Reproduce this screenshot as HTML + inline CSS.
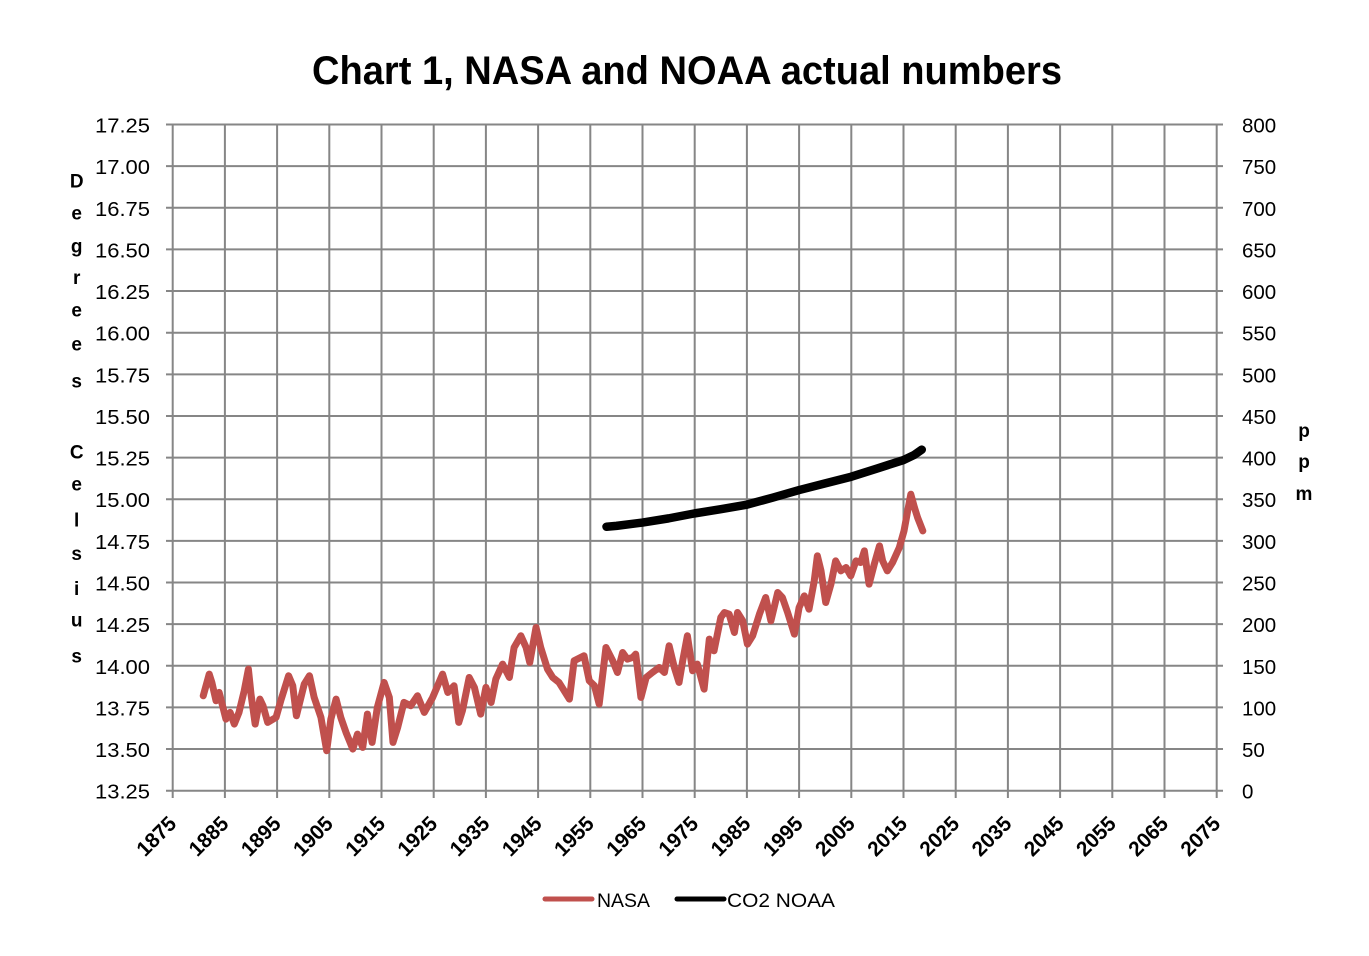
<!DOCTYPE html>
<html><head><meta charset="utf-8"><style>
html,body{margin:0;padding:0;background:#fff;}
svg{display:block;}
text{font-family:"Liberation Sans",sans-serif;fill:#000;}
</style></head><body>
<svg width="1369" height="956" viewBox="0 0 1369 956" xmlns="http://www.w3.org/2000/svg">
<rect width="1369" height="956" fill="#fff"/>
<text x="312" y="84" font-size="40" font-weight="bold" textLength="750" lengthAdjust="spacingAndGlyphs">Chart 1, NASA and NOAA actual numbers</text>
<g stroke="#868686" stroke-width="2" fill="none">
<path d="M166 790.7H1223M166 749.06H1223M166 707.43H1223M166 665.79H1223M166 624.15H1223M166 582.51H1223M166 540.88H1223M166 499.24H1223M166 457.6H1223M166 415.96H1223M166 374.33H1223M166 332.69H1223M166 291.05H1223M166 249.41H1223M166 207.78H1223M166 166.14H1223M166 124.5H1223"/>
<path d="M172.7 124.5V798M224.9 124.5V798M277.1 124.5V798M329.3 124.5V798M381.5 124.5V798M433.7 124.5V798M485.9 124.5V798M538.1 124.5V798M590.3 124.5V798M642.5 124.5V798M694.7 124.5V798M746.9 124.5V798M799.1 124.5V798M851.3 124.5V798M903.5 124.5V798M955.7 124.5V798M1007.9 124.5V798M1060.1 124.5V798M1112.3 124.5V798M1164.5 124.5V798M1216.7 124.5V798"/>
</g>
<g font-size="20" text-anchor="end">
<text x="150" y="798.7" textLength="55" lengthAdjust="spacingAndGlyphs">13.25</text>
<text x="150" y="757.06" textLength="55" lengthAdjust="spacingAndGlyphs">13.50</text>
<text x="150" y="715.43" textLength="55" lengthAdjust="spacingAndGlyphs">13.75</text>
<text x="150" y="673.79" textLength="55" lengthAdjust="spacingAndGlyphs">14.00</text>
<text x="150" y="632.15" textLength="55" lengthAdjust="spacingAndGlyphs">14.25</text>
<text x="150" y="590.51" textLength="55" lengthAdjust="spacingAndGlyphs">14.50</text>
<text x="150" y="548.88" textLength="55" lengthAdjust="spacingAndGlyphs">14.75</text>
<text x="150" y="507.24" textLength="55" lengthAdjust="spacingAndGlyphs">15.00</text>
<text x="150" y="465.6" textLength="55" lengthAdjust="spacingAndGlyphs">15.25</text>
<text x="150" y="423.96" textLength="55" lengthAdjust="spacingAndGlyphs">15.50</text>
<text x="150" y="382.33" textLength="55" lengthAdjust="spacingAndGlyphs">15.75</text>
<text x="150" y="340.69" textLength="55" lengthAdjust="spacingAndGlyphs">16.00</text>
<text x="150" y="299.05" textLength="55" lengthAdjust="spacingAndGlyphs">16.25</text>
<text x="150" y="257.41" textLength="55" lengthAdjust="spacingAndGlyphs">16.50</text>
<text x="150" y="215.78" textLength="55" lengthAdjust="spacingAndGlyphs">16.75</text>
<text x="150" y="174.14" textLength="55" lengthAdjust="spacingAndGlyphs">17.00</text>
<text x="150" y="132.5" textLength="55" lengthAdjust="spacingAndGlyphs">17.25</text>
</g>
<g font-size="20.5" text-anchor="start">
<text x="1242" y="798.7">0</text>
<text x="1242" y="757.06">50</text>
<text x="1242" y="715.43">100</text>
<text x="1242" y="673.79">150</text>
<text x="1242" y="632.15">200</text>
<text x="1242" y="590.51">250</text>
<text x="1242" y="548.88">300</text>
<text x="1242" y="507.24">350</text>
<text x="1242" y="465.6">400</text>
<text x="1242" y="423.96">450</text>
<text x="1242" y="382.33">500</text>
<text x="1242" y="340.69">550</text>
<text x="1242" y="299.05">600</text>
<text x="1242" y="257.41">650</text>
<text x="1242" y="215.78">700</text>
<text x="1242" y="174.14">750</text>
<text x="1242" y="132.5">800</text>
</g>
<g font-size="21" font-weight="bold" text-anchor="end">
<text x="177.7" y="825" transform="rotate(-45 177.7 825)" textLength="46" lengthAdjust="spacingAndGlyphs">1875</text>
<text x="229.9" y="825" transform="rotate(-45 229.9 825)" textLength="46" lengthAdjust="spacingAndGlyphs">1885</text>
<text x="282.1" y="825" transform="rotate(-45 282.1 825)" textLength="46" lengthAdjust="spacingAndGlyphs">1895</text>
<text x="334.3" y="825" transform="rotate(-45 334.3 825)" textLength="46" lengthAdjust="spacingAndGlyphs">1905</text>
<text x="386.5" y="825" transform="rotate(-45 386.5 825)" textLength="46" lengthAdjust="spacingAndGlyphs">1915</text>
<text x="438.7" y="825" transform="rotate(-45 438.7 825)" textLength="46" lengthAdjust="spacingAndGlyphs">1925</text>
<text x="490.9" y="825" transform="rotate(-45 490.9 825)" textLength="46" lengthAdjust="spacingAndGlyphs">1935</text>
<text x="543.1" y="825" transform="rotate(-45 543.1 825)" textLength="46" lengthAdjust="spacingAndGlyphs">1945</text>
<text x="595.3" y="825" transform="rotate(-45 595.3 825)" textLength="46" lengthAdjust="spacingAndGlyphs">1955</text>
<text x="647.5" y="825" transform="rotate(-45 647.5 825)" textLength="46" lengthAdjust="spacingAndGlyphs">1965</text>
<text x="699.7" y="825" transform="rotate(-45 699.7 825)" textLength="46" lengthAdjust="spacingAndGlyphs">1975</text>
<text x="751.9" y="825" transform="rotate(-45 751.9 825)" textLength="46" lengthAdjust="spacingAndGlyphs">1985</text>
<text x="804.1" y="825" transform="rotate(-45 804.1 825)" textLength="46" lengthAdjust="spacingAndGlyphs">1995</text>
<text x="856.3" y="825" transform="rotate(-45 856.3 825)" textLength="46" lengthAdjust="spacingAndGlyphs">2005</text>
<text x="908.5" y="825" transform="rotate(-45 908.5 825)" textLength="46" lengthAdjust="spacingAndGlyphs">2015</text>
<text x="960.7" y="825" transform="rotate(-45 960.7 825)" textLength="46" lengthAdjust="spacingAndGlyphs">2025</text>
<text x="1012.9" y="825" transform="rotate(-45 1012.9 825)" textLength="46" lengthAdjust="spacingAndGlyphs">2035</text>
<text x="1065.1" y="825" transform="rotate(-45 1065.1 825)" textLength="46" lengthAdjust="spacingAndGlyphs">2045</text>
<text x="1117.3" y="825" transform="rotate(-45 1117.3 825)" textLength="46" lengthAdjust="spacingAndGlyphs">2055</text>
<text x="1169.5" y="825" transform="rotate(-45 1169.5 825)" textLength="46" lengthAdjust="spacingAndGlyphs">2065</text>
<text x="1221.7" y="825" transform="rotate(-45 1221.7 825)" textLength="46" lengthAdjust="spacingAndGlyphs">2075</text>
</g>
<g font-size="19" font-weight="bold" text-anchor="middle">
<text x="76.7" y="187.3">D</text>
<text x="76.7" y="219.3">e</text>
<text x="76.7" y="252.3">g</text>
<text x="76.7" y="284">r</text>
<text x="76.7" y="316.7">e</text>
<text x="76.7" y="350.7">e</text>
<text x="76.7" y="387.3">s</text>
<text x="76.7" y="458.3">C</text>
<text x="76.7" y="490.7">e</text>
<text x="76.7" y="526.7">l</text>
<text x="76.7" y="560">s</text>
<text x="76.7" y="595">i</text>
<text x="76.7" y="626.7">u</text>
<text x="76.7" y="662.3">s</text>
<text x="1304" y="437">p</text>
<text x="1304" y="468">p</text>
<text x="1304" y="500">m</text>
</g>
<g transform="translate(172.7,790.7) scale(5.22,-166.55) translate(-1875,-13.25)">
<polyline fill="none" stroke="#C0504D" stroke-width="7" stroke-linejoin="round" stroke-linecap="round" vector-effect="non-scaling-stroke" points="1880.85,13.82 1882.0,13.95 1882.5,13.90 1883.3,13.79 1883.9,13.84 1885.2,13.68 1886.0,13.72 1886.8,13.65 1887.7,13.72 1888.7,13.85 1889.5,13.98 1890.0,13.83 1890.8,13.65 1891.7,13.80 1892.3,13.76 1893.2,13.66 1894.8,13.69 1895.7,13.79 1897.2,13.94 1898.0,13.88 1898.7,13.70 1900.2,13.89 1901.2,13.94 1902.1,13.81 1903.4,13.69 1904.5,13.49 1905.3,13.68 1906.3,13.80 1907.2,13.69 1908.2,13.60 1909.5,13.50 1910.4,13.59 1911.4,13.51 1912.3,13.71 1913.2,13.54 1914.2,13.75 1915.5,13.90 1916.5,13.81 1917.2,13.54 1918.1,13.63 1919.3,13.78 1920.6,13.76 1921.9,13.82 1923.2,13.72 1924.8,13.81 1926.7,13.95 1927.7,13.84 1928.9,13.88 1929.8,13.66 1930.5,13.73 1931.8,13.93 1932.8,13.87 1934.0,13.71 1935.0,13.87 1936.0,13.78 1936.9,13.92 1938.2,14.01 1939.5,13.93 1940.4,14.11 1941.7,14.18 1942.7,14.11 1943.4,14.02 1944.6,14.23 1945.5,14.11 1946.8,13.98 1947.8,13.93 1949.0,13.90 1951.0,13.80 1951.9,14.03 1953.8,14.06 1954.8,13.91 1955.8,13.88 1956.7,13.77 1958.0,14.11 1959.3,14.03 1960.2,13.96 1961.2,14.08 1962.1,14.04 1963.1,14.05 1963.7,14.07 1964.7,13.81 1965.7,13.93 1966.9,13.96 1968.2,13.99 1969.2,13.96 1970.1,14.12 1971.1,13.99 1972.0,13.90 1972.7,14.03 1973.6,14.18 1974.6,13.97 1975.5,14.01 1976.8,13.86 1977.8,14.16 1978.7,14.09 1980.0,14.29 1980.7,14.32 1981.6,14.31 1982.6,14.20 1983.2,14.32 1984.2,14.27 1985.1,14.13 1986.1,14.18 1987.4,14.31 1988.6,14.41 1989.6,14.27 1990.9,14.44 1991.8,14.41 1992.8,14.32 1994.1,14.19 1995.0,14.35 1996.0,14.42 1996.9,14.34 1997.9,14.51 1998.5,14.66 1999.2,14.57 2000.1,14.38 2001.1,14.49 2002.0,14.63 2003.0,14.57 2004.0,14.59 2004.9,14.54 2005.9,14.63 2006.8,14.62 2007.5,14.69 2008.4,14.49 2009.4,14.61 2010.4,14.72 2011.0,14.63 2011.9,14.57 2012.9,14.62 2014.2,14.71 2015.1,14.81 2015.8,14.93 2016.4,15.03 2017.1,14.95 2017.7,14.89 2018.7,14.81"/>
</g>
<g transform="translate(172.7,790.7) scale(5.22,-0.8328) translate(-1875,0)">
<polyline fill="none" stroke="#000" stroke-width="8.5" stroke-linejoin="round" stroke-linecap="round" vector-effect="non-scaling-stroke" points="1958.1,317 1960,318 1965,322 1970,327 1975,333 1980,338 1985,343.5 1990,352 1995,361 2000,369 2005,377 2010,387 2015,397 2017,403 2018.5,409.5"/>
</g>
<line x1="545" y1="899" x2="592" y2="899" stroke="#C0504D" stroke-width="5" stroke-linecap="round"/>
<text x="597" y="907" font-size="19" textLength="53" lengthAdjust="spacingAndGlyphs">NASA</text>
<line x1="677" y1="899" x2="724" y2="899" stroke="#000" stroke-width="5" stroke-linecap="round"/>
<text x="727" y="907" font-size="19" textLength="108" lengthAdjust="spacingAndGlyphs">CO2 NOAA</text>
</svg>
</body></html>
